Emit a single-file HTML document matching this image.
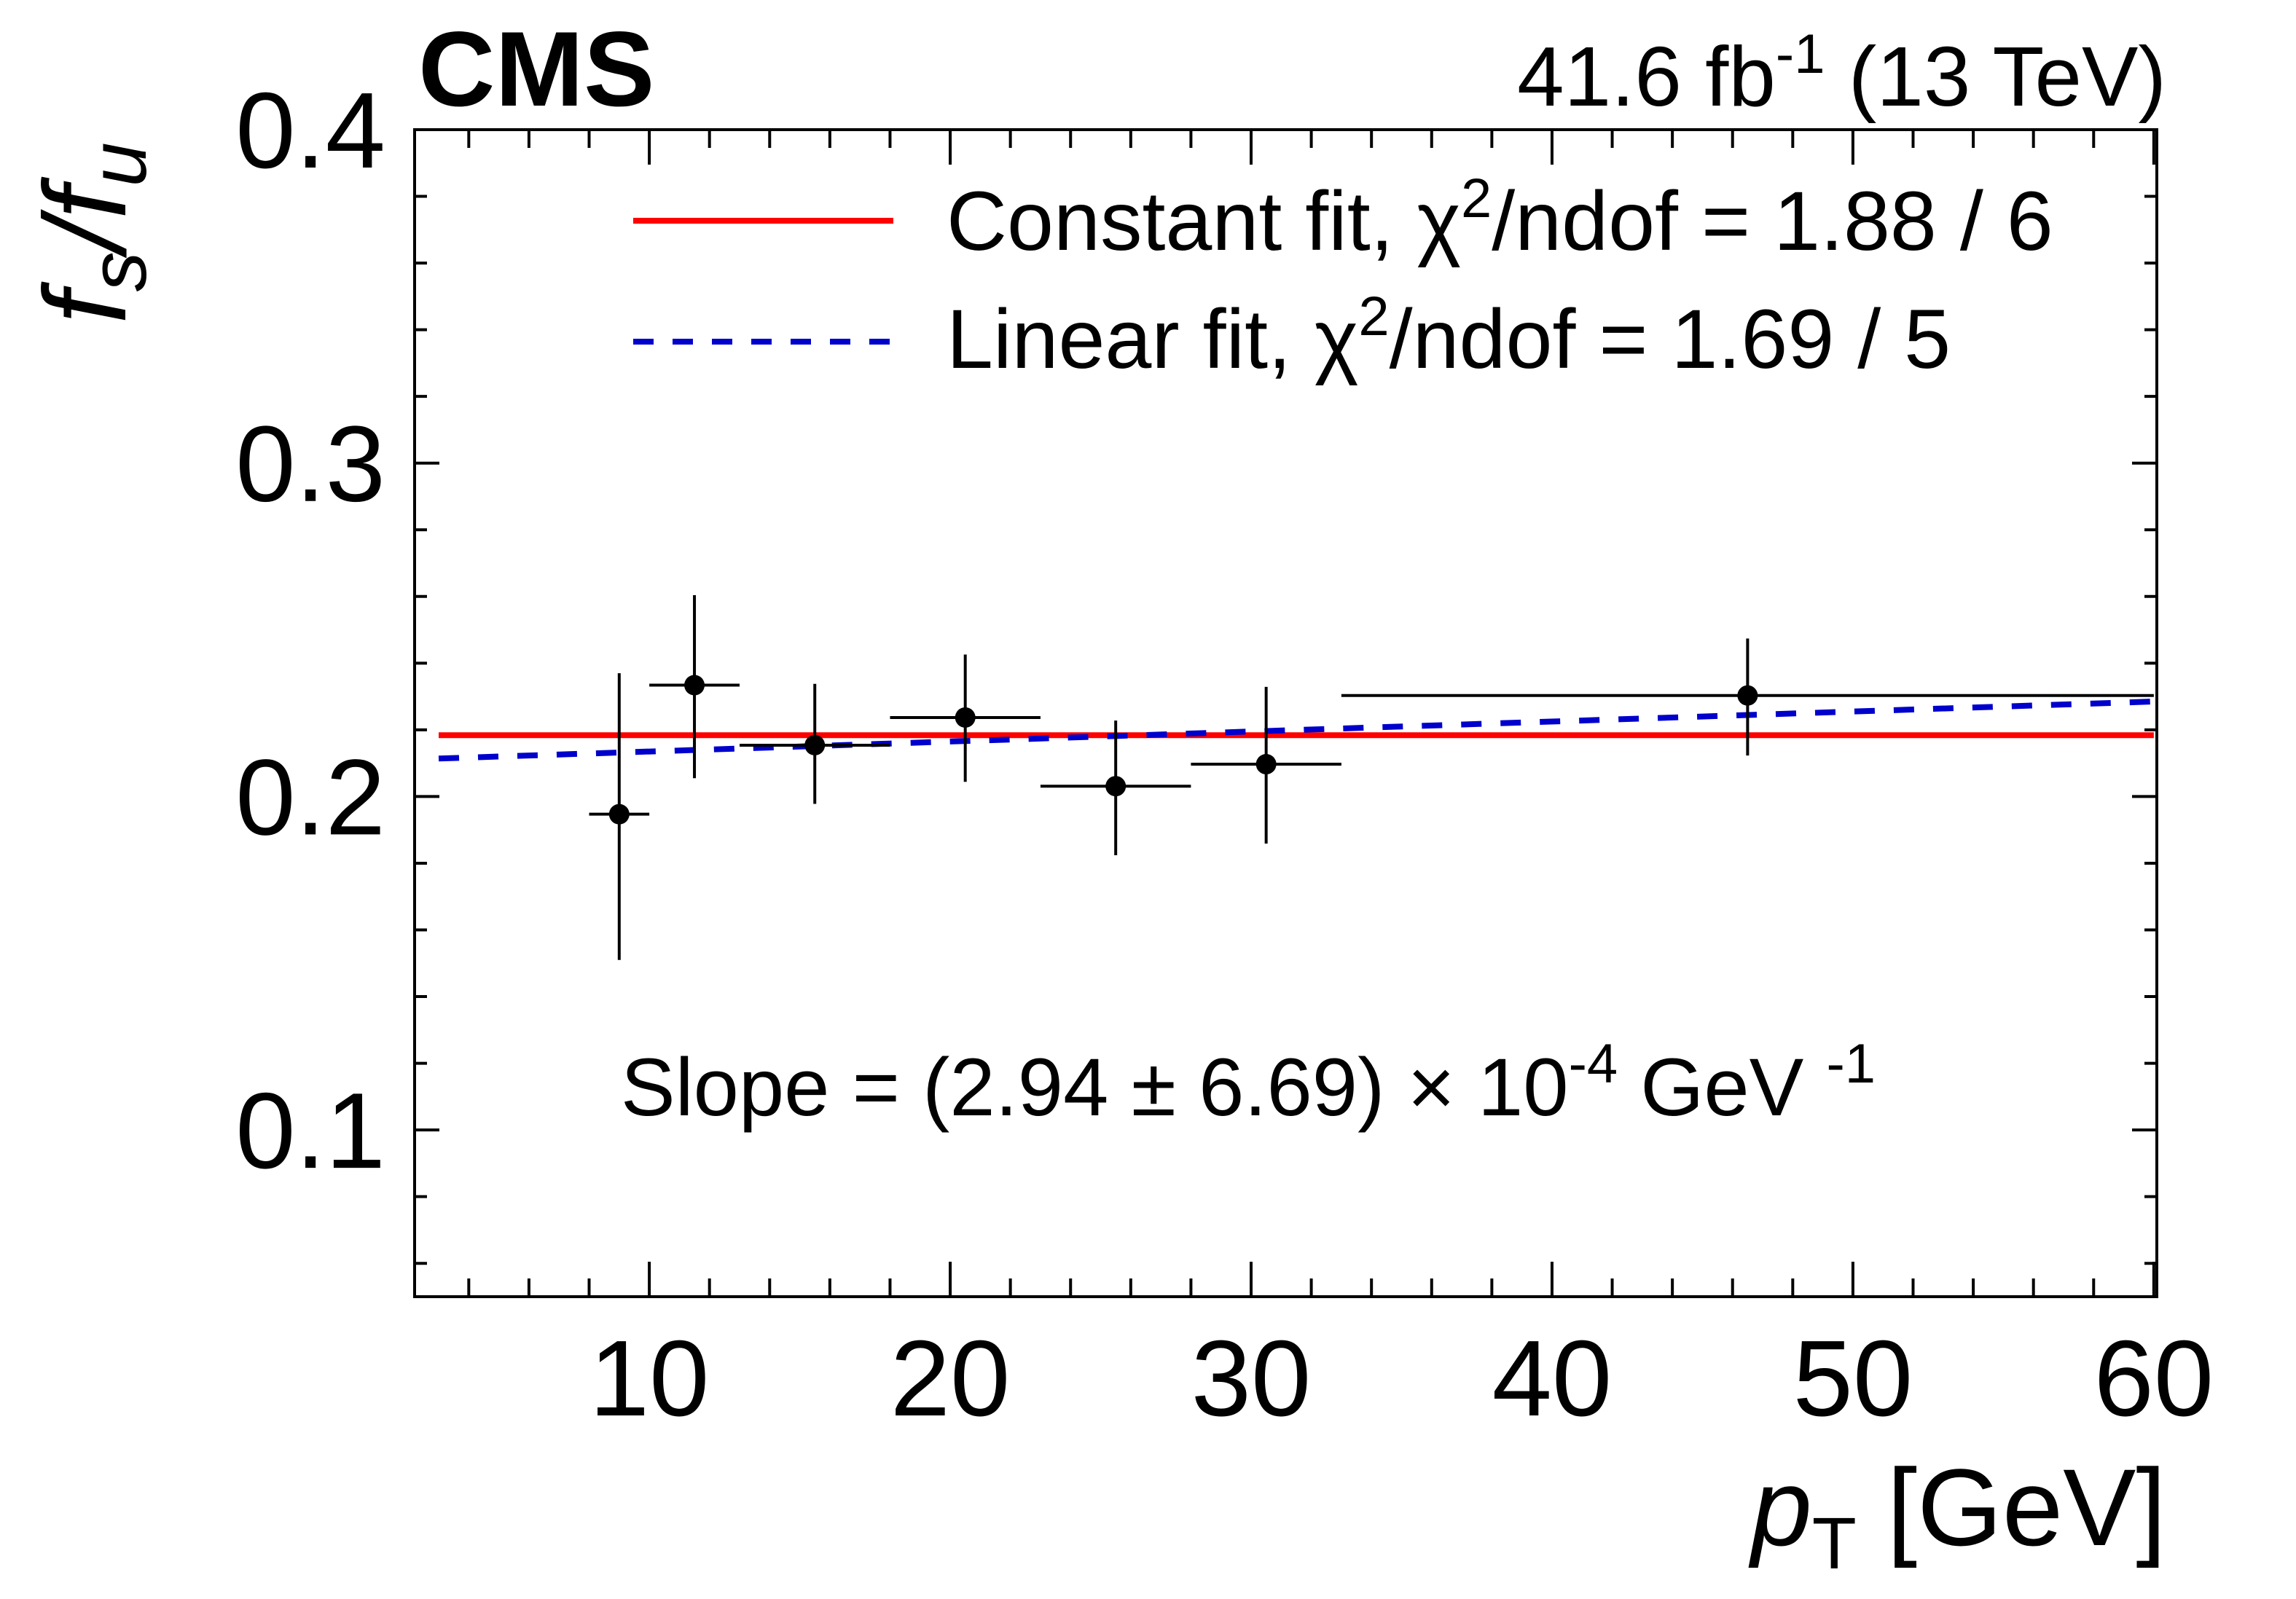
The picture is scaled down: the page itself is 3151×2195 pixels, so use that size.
<!DOCTYPE html>
<html><head><meta charset="utf-8"><style>
html,body{margin:0;padding:0;background:#fff;}
svg{display:block;font-family:"Liberation Sans",sans-serif;}
</style></head><body>
<svg id="chart" width="3151" height="2195" viewBox="0 0 3151 2195" xml:space="preserve">
<text x="574" y="145" font-size="146" font-weight="bold">CMS</text>
<text x="2973" y="145" font-size="116" text-anchor="end">41.6 fb<tspan dy="-45" font-size="76">-1</tspan><tspan dy="45"> (13 TeV)</tspan></text>
<text transform="translate(172,320) rotate(-90)" font-size="160" font-style="italic" text-anchor="middle">f<tspan font-size="110" dy="28">s</tspan><tspan dy="-28">/f</tspan><tspan font-size="110" dy="28">u</tspan></text>
<text x="2973" y="2121" font-size="150" text-anchor="end"><tspan font-style="italic">p</tspan><tspan font-size="100" dy="32">T</tspan><tspan dy="-32"> [GeV]</tspan></text>
<g id="plot"></g>
<line x1="869" y1="303" x2="1226" y2="303" stroke="#ff0000" stroke-width="8"/>
<text x="1299" y="343" font-size="115">Constant fit, χ<tspan dy="-45" font-size="76">2</tspan><tspan dy="45">/ndof = 1.88 / 6</tspan></text>
<line x1="869" y1="469" x2="1226" y2="469" stroke="#0000cc" stroke-width="8" stroke-dasharray="28,26"/>
<text x="1299" y="505" font-size="115">Linear fit, χ<tspan dy="-45" font-size="76">2</tspan><tspan dy="45">/ndof = 1.69 / 5</tspan></text>
<text x="852" y="1531" font-size="112">Slope =  (2.94 ± 6.69) × 10<tspan dy="-45" font-size="76">-4</tspan><tspan dy="45"> GeV </tspan><tspan dy="-45" font-size="76">-1</tspan></text>
</svg>
<script>
const xCenters=[9,11.5,15.5,20.5,25.5,30.5,46.5];
const xLow=[8,10,13,18,23,28,33];
const xHigh=[10,13,18,23,28,33,60];
const yValues=[0.1947,0.2334,0.2154,0.2237,0.2031,0.2097,0.2303];
const yErrUp=[0.0423,0.0270,0.0184,0.0189,0.0197,0.0232,0.0171];
const yErrDown=[0.0437,0.0279,0.0176,0.0193,0.0207,0.0238,0.0180];
const constFit=[0.2184];
const linFitX=[3,60];
const linFitY=[0.2114,0.2285];
const xTicks=[10,20,30,40,50,60];
const yTicks=[0.1,0.2,0.3,0.4];
const yTickLabels=["0.1","0.2","0.3","0.4"];

const L=569,R=2960,T=178,B=1780,X0=2.2,X1=60.1,Y0=0.05,Y1=0.4;
const sx=v=>L+(v-X0)/(X1-X0)*(R-L);
const sy=v=>B-(v-Y0)/(Y1-Y0)*(B-T);
const NS="http://www.w3.org/2000/svg";
const g=document.getElementById('plot');
function mk(tag,attrs){const e=document.createElementNS(NS,tag);for(const k in attrs)e.setAttribute(k,attrs[k]);g.appendChild(e);return e;}

let e=mk('rect',{x:L,y:T,width:R-L,height:B-T,fill:'none',stroke:'#000','stroke-width':4});



for(let v=4;v<=60;v+=2){
  const major=v%10===0;const len=major?48:25;const x=sx(v);
  e=mk('line',{x1:x,y1:B,x2:x,y2:B-len,stroke:'#000','stroke-width':4});
  
  
  e=mk('line',{x1:x,y1:T,x2:x,y2:T+len,stroke:'#000','stroke-width':4});
  
  
}
xTicks.forEach(v=>{
  e=mk('text',{x:sx(v),y:1943,'font-size':148,'text-anchor':'middle'});e.textContent=String(v);
  
  
});
for(let i=3;i<=20;i++){
  const v=i*0.02;const major=(i%5===0);const len=major?34:17;const y=sy(v);
  if(v<Y0||v>Y1+1e-9)continue;
  e=mk('line',{x1:L,y1:y,x2:L+len,y2:y,stroke:'#000','stroke-width':4});
  
  
  e=mk('line',{x1:R,y1:y,x2:R-len,y2:y,stroke:'#000','stroke-width':4});
  
  
}
yTicks.forEach((v,i)=>{
  e=mk('text',{x:529,y:sy(v)+52,'font-size':148,'text-anchor':'end'});e.textContent=yTickLabels[i];
  
  
});

e=mk('line',{x1:sx(3),y1:sy(constFit[0]),x2:sx(60),y2:sy(constFit[0]),stroke:'#ff0000','stroke-width':8});


e=mk('line',{x1:sx(linFitX[0]),y1:sy(linFitY[0]),x2:sx(linFitX[1]),y2:sy(linFitY[1]),stroke:'#0000cc','stroke-width':8,'stroke-dasharray':'28,26'});



xCenters.forEach((xc,i)=>{
  e=mk('line',{x1:sx(xLow[i]),y1:sy(yValues[i]),x2:sx(xHigh[i]),y2:sy(yValues[i]),stroke:'#000','stroke-width':4});
  
  
  e=mk('line',{x1:sx(xc),y1:sy(yValues[i]+yErrUp[i]),x2:sx(xc),y2:sy(yValues[i]-yErrDown[i]),stroke:'#000','stroke-width':4});
  
  
  e=mk('circle',{cx:sx(xc),cy:sy(yValues[i]),r:14,fill:'#000'});
  
  
});
</script>
</body></html>
